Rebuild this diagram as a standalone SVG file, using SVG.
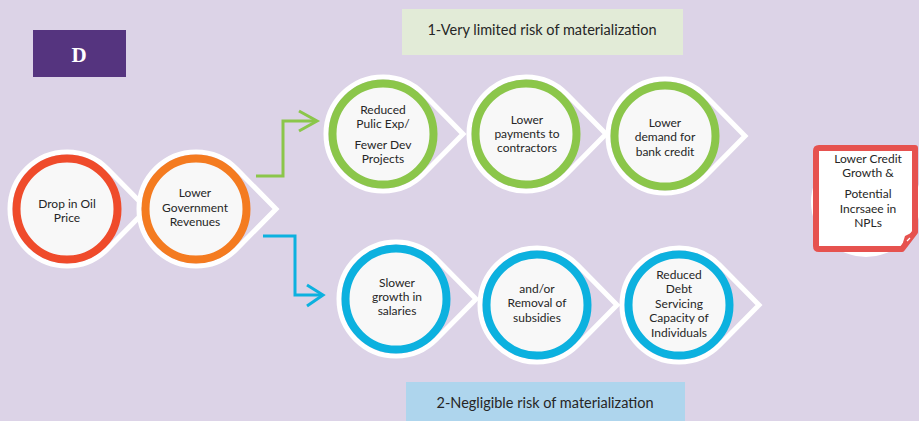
<svg xmlns="http://www.w3.org/2000/svg" xmlns:xlink="http://www.w3.org/1999/xlink" width="919" height="421" viewBox="0 0 919 421">
<style>
.t{font-family:Lato,"Liberation Sans",sans-serif;font-size:12px;fill:#262626;text-anchor:middle}
.lbl{font-family:Lato,"Liberation Sans",sans-serif;font-size:14.5px;fill:#262626;text-anchor:middle}
.tear{fill:none;stroke:#ffffff;stroke-width:5;stroke-linejoin:miter}
.inner{fill:#f8f8f8;stroke-width:8}
.red{stroke:#ef4b2b}.orange{stroke:#f47b20}.green{stroke:#8bc64a}.blue{stroke:#0cb1df}
.conn{fill:none;stroke-width:3;stroke-linejoin:miter}
</style>
<defs>
<path id="tear" d="M80,0 L40.6,-40 A57,57 0 1 0 40.6,40 Z"/>
</defs>
<rect width="919" height="421" fill="#dcd3e7"/>
<g id="title-d">
<rect x="33" y="30" width="93" height="47" fill="#55347f"/>
<text x="79" y="62" font-family="'Liberation Serif',serif" font-weight="bold" font-size="21" fill="#ffffff" text-anchor="middle">D</text>
</g>
<g id="label-1">
<rect x="402" y="9" width="281" height="46" fill="#e2ebd7"/>
<text class="lbl" x="542" y="35">1-Very limited risk of materialization</text>
</g>
<g id="label-2">
<rect x="406" y="382" width="279" height="39" fill="#aed5ed"/>
<text class="lbl" x="545" y="408">2-Negligible risk of materialization</text>
</g>
<g id="connectors">
<polyline class="conn" stroke="#8bc64a" points="256,176 283,176 283,121 316,121"/>
<polyline class="conn" stroke="#8bc64a" points="299,111 317,121 299,131"/>
<polyline class="conn" stroke="#0cb1df" points="263,236 295,236 295,295 322,295"/>
<polyline class="conn" stroke="#0cb1df" points="307,285 323,295 307,306"/>
</g>
<g id="node-oil">
<use xlink:href="#tear" class="tear" x="67" y="209"/>
<circle class="inner red" cx="67" cy="209" r="50.5"/>
<text class="t" x="67" y="208">Drop in Oil</text>
<text class="t" x="67" y="222">Price</text>
</g>
<g id="node-revenues">
<use xlink:href="#tear" class="tear" x="196" y="209"/>
<circle class="inner orange" cx="196" cy="209" r="50.5"/>
<text class="t" x="195" y="197">Lower</text>
<text class="t" x="195" y="212">Government</text>
<text class="t" x="195" y="226">Revenues</text>
</g>
<g id="node-public-exp">
<use xlink:href="#tear" class="tear" x="383" y="134"/>
<circle class="inner green" cx="383" cy="134" r="50.5"/>
<text class="t" x="383" y="114">Reduced</text>
<text class="t" x="383" y="128">Pulic Exp/</text>
<text class="t" x="383" y="149">Fewer Dev</text>
<text class="t" x="383" y="163">Projects</text>
</g>
<g id="node-payments">
<use xlink:href="#tear" class="tear" x="526" y="134"/>
<circle class="inner green" cx="526" cy="134" r="50.5"/>
<text class="t" x="527" y="124">Lower</text>
<text class="t" x="527" y="138">payments to</text>
<text class="t" x="527" y="152">contractors</text>
</g>
<g id="node-demand">
<use xlink:href="#tear" class="tear" x="665" y="136"/>
<circle class="inner green" cx="665" cy="136" r="50.5"/>
<text class="t" x="665" y="127">Lower</text>
<text class="t" x="665" y="141">demand for</text>
<text class="t" x="665" y="156">bank credit</text>
</g>
<g id="node-salaries">
<use xlink:href="#tear" class="tear" x="396" y="299"/>
<circle class="inner blue" cx="396" cy="299" r="50.5"/>
<text class="t" x="397" y="287">Slower</text>
<text class="t" x="397" y="301">growth in</text>
<text class="t" x="397" y="315">salaries</text>
</g>
<g id="node-subsidies">
<use xlink:href="#tear" class="tear" x="537" y="305"/>
<circle class="inner blue" cx="537" cy="305" r="50.5"/>
<text class="t" x="537" y="293">and/or</text>
<text class="t" x="537" y="307">Removal of</text>
<text class="t" x="537" y="322">subsidies</text>
</g>
<g id="node-debt">
<use xlink:href="#tear" class="tear" x="679" y="305"/>
<circle class="inner blue" cx="679" cy="305" r="50.5"/>
<text class="t" x="679" y="279">Reduced</text>
<text class="t" x="679" y="293">Debt</text>
<text class="t" x="679" y="308">Servicing</text>
<text class="t" x="679" y="322">Capacity of</text>
<text class="t" x="679" y="337">Individuals</text>
</g>
<g id="node-outcome">
<circle cx="866" cy="202" r="55" fill="#ffffff"/>
<path d="M816,151 Q816,148 819,148 L915,148 L915,232 L902,249 L819,249 Q816,249 816,246 Z" fill="#ffffff" stroke="#e6524f" stroke-width="6" stroke-linejoin="round"/>
<polygon points="915,231 901,249 905,236" fill="#e6524f"/>
<line x1="907" y1="241" x2="910" y2="238" stroke="#ffffff" stroke-width="1.2"/>
<text class="t" x="868" y="163">Lower Credit</text>
<text class="t" x="868" y="177">Growth &amp;</text>
<text class="t" x="868" y="198">Potential</text>
<text class="t" x="868" y="213">Incrsaee in</text>
<text class="t" x="868" y="227">NPLs</text>
</g>
</svg>
